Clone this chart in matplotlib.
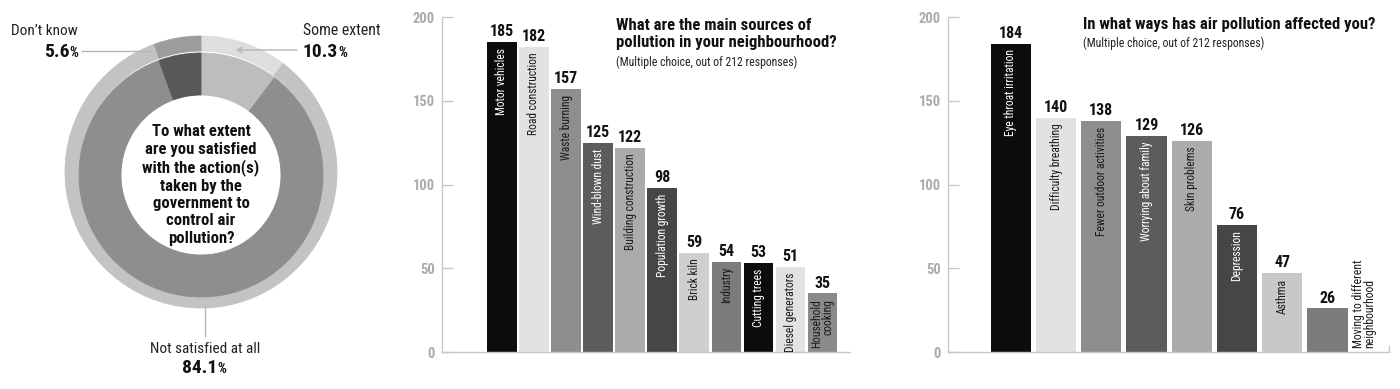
import numpy as np
import matplotlib
matplotlib.use('Agg')
import matplotlib.pyplot as plt
from matplotlib import font_manager as fm
from matplotlib.colors import to_rgb

# --- data -------------------------------------------------------------
sat_labels = ['Some extent', 'Not satisfied at all', 'Don\u2019t know']
sat_values = [10.3, 84.1, 5.6]
sat_question = ('To what extent\nare you satisfied\nwith the action(s)\n'
                'taken by the\ngovernment to\ncontrol air\npollution?')

src_labels = ['Motor vehicles', 'Road construction', 'Waste burning',
              'Wind-blown dust', 'Building construction', 'Population growth',
              'Brick kiln', 'Industry', 'Cutting trees', 'Diesel generators',
              'Household\ncooking']
src_values = [185, 182, 157, 125, 122, 98, 59, 54, 53, 51, 35]

eff_labels = ['Eye throat irritation', 'Difficulty breathing',
              'Fewer outdoor activities', 'Worrying about family',
              'Skin problems', 'Depression', 'Asthma',
              'Moving to different\nneighbourhood']
eff_values = [184, 140, 138, 129, 126, 76, 47, 26]

yticks = [0, 50, 100, 150, 200]

# --- styles -----------------------------------------------------------
ring_outer = ['#dedede', '#c3c3c3', '#9c9c9c']
ring_inner = ['#bdbdbd', '#8e8e8e', '#585858']
src_colors = ['#0c0c0c', '#e2e2e2', '#8e8e8e', '#5c5c5c', '#ababab', '#464646',
              '#cfcfcf', '#7c7c7c', '#0c0c0c', '#e2e2e2', '#8a8a8a']
eff_colors = ['#0c0c0c', '#e2e2e2', '#8e8e8e', '#5c5c5c', '#ababab', '#464646',
              '#c8c8c8', '#7c7c7c']

names = {f.name for f in fm.fontManager.ttflist}
narrow = next((n for n in ['Liberation Sans Narrow', 'Roboto Condensed',
                           'Open Sans Condensed', 'Liberation Sans']
               if n in names), 'DejaVu Sans')
plt.rcParams['font.family'] = [narrow, 'DejaVu Sans']

W, H = 1400, 389
fig = plt.figure(figsize=(W / 100, H / 100), dpi=100)
line_col = '#b5b5b5'

# --- donut ------------------------------------------------------------
ax = fig.add_axes([0, 0, 400 / W, 1])
for rad, cy, wid, cols in [(136, H - 172, 15, ring_outer), (122, H - 175, 42, ring_inner)]:
    wedges, _ = ax.pie(sat_values, radius=rad, center=(201, cy), startangle=90,
                       counterclock=False, colors=cols,
                       wedgeprops=dict(width=wid, linewidth=0.6))
    for w in wedges:
        w.set_edgecolor(w.get_facecolor())
ax.set_xlim(0, 400)
ax.set_ylim(0, H)
ax.set_aspect('equal')
ax.axis('off')

ax.text(201, H - 185, sat_question, ha='center', va='center', fontsize=12,
        weight='bold', linespacing=1.2, color='#111')


def pct(x, y, value, ha):
    y = H - y
    if ha == 'right':
        p = ax.text(x, y, '%', ha='right', va='baseline', fontsize=10, weight='bold', color='#111')
        ax.annotate(f'{value}', xy=(0, y), xycoords=(p, 'data'), ha='right',
                    va='baseline', fontsize=14, weight='bold', color='#111')
    else:
        t = ax.text(x, y, f'{value}', ha=ha, va='baseline', fontsize=14, weight='bold', color='#111')
        ax.annotate('%', xy=(1, y), xycoords=(t, 'data'), ha='left',
                    va='baseline', fontsize=10, weight='bold', color='#111')


# Some extent
ax.text(303, H - 35, sat_labels[0], ha='left', va='baseline', fontsize=11.3, color='#222')
pct(303, 57, sat_values[0], 'left')
ax.annotate('', xy=(236, H - 50), xytext=(297, H - 50),
            arrowprops=dict(arrowstyle='->,head_length=0.35,head_width=0.2',
                            color=line_col, lw=1, shrinkA=0, shrinkB=0))
# Not satisfied
ax.text(205, H - 353, sat_labels[1], ha='center', va='baseline', fontsize=11, color='#222')
pct(200, 373, sat_values[1], 'center')
ax.plot([205, 205], [H - 307, H - 336], color=line_col, lw=1)
# Don't know
ax.text(78, H - 35, sat_labels[2], ha='right', va='baseline', fontsize=11, color='#222')
pct(78, 57, sat_values[2], 'right')
ax.plot([82, 150], [H - 51, H - 51], color=line_col, lw=1)


# --- bar panels -------------------------------------------------------
def panel(left, right, cats, vals, cols, xlim, width, outside=()):
    a = fig.add_axes([left / W, (H - 352) / H, (right - left) / W, 335 / H])
    x = np.arange(len(vals))
    bars = a.bar(x, vals, width=width, color=cols, linewidth=0)
    a.set_xlim(*xlim)
    a.set_ylim(0, 200)
    for s in ['top', 'right']:
        a.spines[s].set_visible(False)
    for s in ['left', 'bottom']:
        a.spines[s].set_color('#c9c9c9')
        a.spines[s].set_linewidth(1)
    a.set_yticks(yticks)
    a.tick_params(axis='y', direction='in', length=8, width=1, color='#c9c9c9',
                  labelcolor='#acacac', labelsize=10.5, pad=5)
    for lab in a.get_yticklabels():
        lab.set_fontweight('bold')
    a.set_xticks([])
    a.bar_label(bars, padding=2, fontsize=11.5, fontweight='bold', color='#111')
    for xi, v, c, col in zip(x, vals, cats, cols):
        if xi in outside:
            a.annotate(c, xy=(xi + width / 2, 0), xytext=(3, 3),
                       textcoords='offset points', rotation=90, ha='left',
                       va='bottom', multialignment='left', fontsize=8.5,
                       color='#1a1a1a', linespacing=0.85)
            continue
        dark = np.mean(to_rgb(col)) < 0.4
        a.annotate(c, xy=(xi, v), xytext=(0, -4), textcoords='offset points',
                   rotation=90, ha='center', va='top', multialignment='right',
                   fontsize=8.3, color='white' if dark else '#1a1a1a',
                   linespacing=0.85)
    return a


panel(442, 850, src_labels, src_values, src_colors, (-1.87, 10.86), 0.92)
a2 = panel(948, 1389, eff_labels, eff_values, eff_colors, (-1.39, 8.36), 0.89,
           outside=(7,))
a2.set_xticks([8.36])
a2.set_xticklabels([])
a2.tick_params(axis='x', direction='in', length=5, width=1, color='#c9c9c9')

# --- titles -----------------------------------------------------------
tkw = dict(ha='left', va='center', fontsize=12, weight='bold', color='#111')
skw = dict(ha='left', va='center', fontsize=8.5, color='#222')
fig.text(616 / W, 1 - 25 / H, 'What are the main sources of', **tkw)
fig.text(616 / W, 1 - 43 / H, 'pollution in your neighbourhood?', **tkw)
fig.text(616 / W, 1 - 62 / H, '(Multiple choice, out of 212 responses)', **skw)
fig.text(1083 / W, 1 - 25 / H, 'In what ways has air pollution affected you?', **tkw)
fig.text(1083 / W, 1 - 43 / H, '(Multiple choice, out of 212 responses)', **skw)

fig.savefig('out.png', dpi=100)
